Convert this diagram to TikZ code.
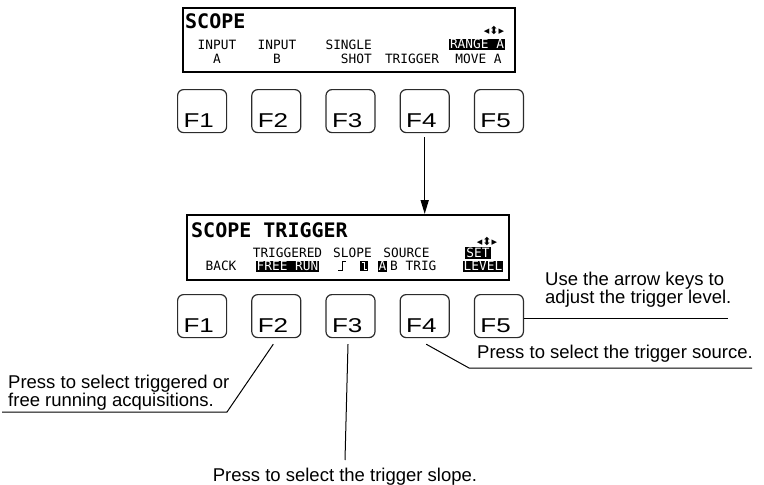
\documentclass[tikz,border=0pt]{standalone}
\usepackage{fontspec}
\usepackage{tikz}
\usetikzlibrary{
  arrows.meta,
  positioning,
  calc
}
\setmainfont{Liberation Sans}
\newfontfamily\lcdfont{DejaVu Sans Mono}
\newfontfamily\symfont{DejaVu Sans}
\newfontfamily\keyfont[FakeStretch=1.3]{Liberation Sans}
\definecolor{fkKey}{HTML}{2B2B2B}
\definecolor{fkInk}{HTML}{000000}
\tikzset{
  screen/.style={
    draw=fkInk, line width=2pt, anchor=north west, inner sep=0pt
  },
  fkey/.style={
    draw=fkKey, line width=1.2pt, rounded corners=6pt,
    font=\keyfont\fontsize{20}{20}\selectfont, text width=37pt, align=left,
    text height=35pt, text depth=2pt, inner xsep=6pt, inner ysep=3pt
  },
  lcd/.style={font=\lcdfont\fontsize{12.8}{14}\selectfont, inner sep=0pt, align=center},
  lcdtitle/.style={font=\lcdfont\bfseries\fontsize{20}{20}\selectfont, inner sep=0pt},
  lcdinv/.style={lcd, fill=fkInk, text=white, inner xsep=1pt, inner ysep=0.8pt,
    text height=9.3pt, text depth=0.4pt},
  lcdarrows/.style={font=\symfont\fontsize{11}{11}\selectfont, inner sep=0pt},
  flow/.style={-{Triangle[length=14pt, width=8pt]}, line width=1.5pt, fkInk},
  callout/.style={line width=1pt, fkInk},
  note/.style={font=\fontsize{18.5}{16}\selectfont, inner sep=0pt, align=left}
}

\begin{document}
\begin{tikzpicture}[x=1pt, y=-1pt, node distance=24pt]
  \useasboundingbox (0,0) rectangle (764,485);

  % first screen and its soft keys
  \node[screen, minimum width=332pt, minimum height=64pt] (scr1) at (182,7) {};
  \node[lcdtitle, anchor=base west] (ttl1) at (185,28) {SCOPE};
  \node[lcdarrows] (ar1) at (494,30.5) {◂⬍▸};
  \node[lcd, anchor=north] (inA) at (217,40) {INPUT\\A};
  \node[lcd, anchor=north] (inB) at (277,40) {INPUT\\B};
  \node[lcd, anchor=north east, align=right] (single) at (372,40) {SINGLE\\SHOT};
  \node[lcd, anchor=base] (trig) at (412,63) {TRIGGER};
  \node[lcdinv] (range) at (477,44.5) {RANGE A};
  \node[lcd, anchor=base] (move) at (478.5,63) {MOVE A};

  \node[fkey, anchor=north west] (k1) at (177,89) {F1};
  \node[fkey, right=of k1] (k2) {F2};
  \node[fkey, right=of k2] (k3) {F3};
  \node[fkey, right=of k3] (k4) {F4};
  \node[fkey, right=of k4] (k5) {F5};

  % second screen
  \node[screen, minimum width=322pt, minimum height=65pt] (scr2) at (186,214) {};
  \draw[flow, shorten <=4pt] (k4.south) -- (k4.south |- scr2.north);
  \node[lcdtitle, anchor=base west] (ttl2) at (191,237) {SCOPE TRIGGER};
  \node[lcdarrows] (ar2) at (487,241.5) {◂⬍▸};
  \node[lcd, anchor=base] (back) at (221,270) {BACK};
  \node[lcd, anchor=base] (trgd) at (287.5,257) {TRIGGERED};
  \node[lcdinv] (free) at (287.5,266.5) {FREE RUN};
  \node[lcd, anchor=base] (slope) at (352.5,257) {SLOPE};
  \draw[line width=1pt] (338,270) -- (342,270) -- (342,261) -- (346,261);
  \fill[fkInk] (360,261) rectangle (368,271);
  \draw[line width=1pt, white] (361.5,262.5) -- (364,262.5) -- (364,269.5) -- (366.5,269.5);
  \node[lcd, anchor=base] (source) at (406.5,257) {SOURCE};
  \node[lcdinv] (srcA) at (382.5,266.5) {A};
  \node[lcd, anchor=base west] (srcB) at (390,270) {B TRIG};
  \node[lcdinv] (set) at (478,253) {SET};
  \node[lcdinv] (level) at (483,266.5) {LEVEL};

  \node[fkey, anchor=north west] (k6) at (177,294) {F1};
  \node[fkey, right=of k6] (k7) {F2};
  \node[fkey, right=of k7] (k8) {F3};
  \node[fkey, right=of k8] (k9) {F4};
  \node[fkey, right=of k9] (k10) {F5};

  % callouts
  \coordinate (lvlend) at (728,318);
  \coordinate (srcbend) at (469,368);
  \coordinate (srcend) at (752,368);
  \coordinate (trgbend) at (227,412);
  \coordinate (trgend) at (2,412);
  \coordinate (slpend) at (345,460);

  \draw[callout] (k10.east |- lvlend) -- (lvlend);
  \node[note, anchor=north west] (lvltxt) at (545,271.5)
    {Use the arrow keys to\\adjust the trigger level.};

  \draw[callout] ([xshift=1.5pt, yshift=-6pt]k9.south) -- (srcbend) -- (srcend);
  \node[note, anchor=base west] (srctxt) at (477,358) {Press to select the trigger source.};

  \draw[callout] ([xshift=-3pt, yshift=-6pt]k7.south) -- (trgbend) -- (trgend);
  \node[note, anchor=north west] (trgtxt) at (8,374.5)
    {Press to select triggered or\\free running acquisitions.};

  \draw[callout] ([xshift=-2.5pt, yshift=-6pt]k8.south) -- (slpend);
  \node[note, anchor=base] (slptxt) at (345,481) {Press to select the trigger slope.};
\end{tikzpicture}
\end{document}
